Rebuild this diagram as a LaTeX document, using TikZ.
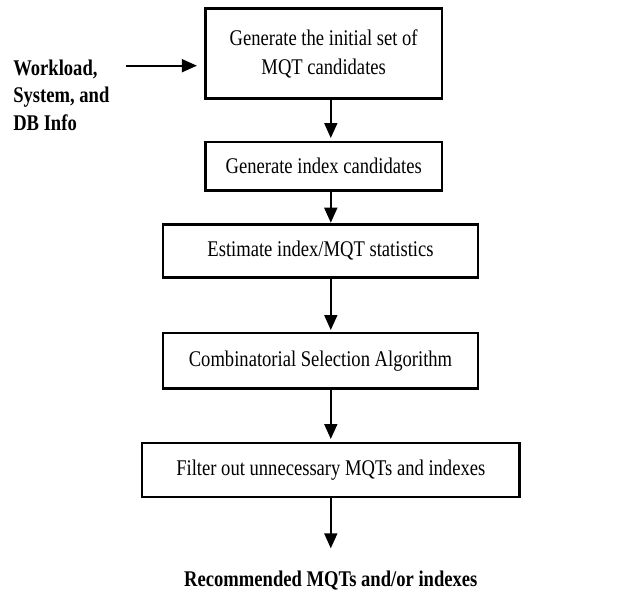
\documentclass[tikz,border=0pt]{standalone}
\usepackage{fontspec}
\setmainfont{Liberation Serif}[FakeStretch=0.83]
\usepackage{tikz}
\usetikzlibrary{arrows.meta, positioning}
\tikzstyle{stage} = [rectangle, draw=black, line width=2.6pt, inner sep=0pt, outer sep=0pt, align=center, font=\fontsize{22.4}{29}\selectfont]
\tikzstyle{label} = [inner sep=0pt, outer sep=0pt, font=\fontsize{22.4}{27.5}\selectfont\bfseries]
\tikzstyle{flow} = [line width=1.8pt, -{Triangle[length=15pt, width=13pt]}]

\begin{document}
\begin{tikzpicture}[x=1pt, y=1pt]
		\useasboundingbox (0,0) rectangle (637,-592);
		\node (Initial)[stage, minimum width=236.7pt, minimum height=90pt] at (323.7,-53.7) {Generate the initial set of\\MQT candidates};
		\node (Index)[stage, minimum width=236.7pt, minimum height=48.2pt, below = 43.3pt of Initial]{Generate index candidates};
		\node (Stats)[stage, minimum width=315pt, minimum height=53.3pt, below = 34pt of Index, xshift=-3.2pt]{Estimate index/MQT statistics};
		\node (Select)[stage, minimum width=315pt, minimum height=55.7pt, below = 55.5pt of Stats]{Combinatorial Selection Algorithm};
		\node (Filter)[stage, minimum width=377.7pt, minimum height=54pt, below = 54.3pt of Select, xshift=10.3pt]{Filter out unnecessary MQTs and indexes};
		\node (Result)[label, below = 73.5pt of Filter]{Recommended MQTs and/or indexes};
		\node (Inputs)[label, align=left, anchor=north west] at (13.3,-59.7) {Workload,\\System, and\\DB Info};
		\coordinate (Feed) at (126,-65.7);
		\draw [flow, shorten >=8.5pt] (Feed) -- (Feed -| Initial.west);
		\draw [flow, shorten >=4pt] (Initial.south -| Filter) -- (Index.north -| Filter);
		\draw [flow, shorten >=1.5pt] (Index.south -| Filter) -- (Stats.north -| Filter);
		\draw [flow, shorten >=3pt] (Stats.south -| Filter) -- (Select.north -| Filter);
		\draw [flow, shorten >=4pt] (Select.south -| Filter) -- (Filter.north);
		\draw [flow, shorten >=22.2pt] (Filter) -- (Result);
	\end{tikzpicture}
\end{document}
